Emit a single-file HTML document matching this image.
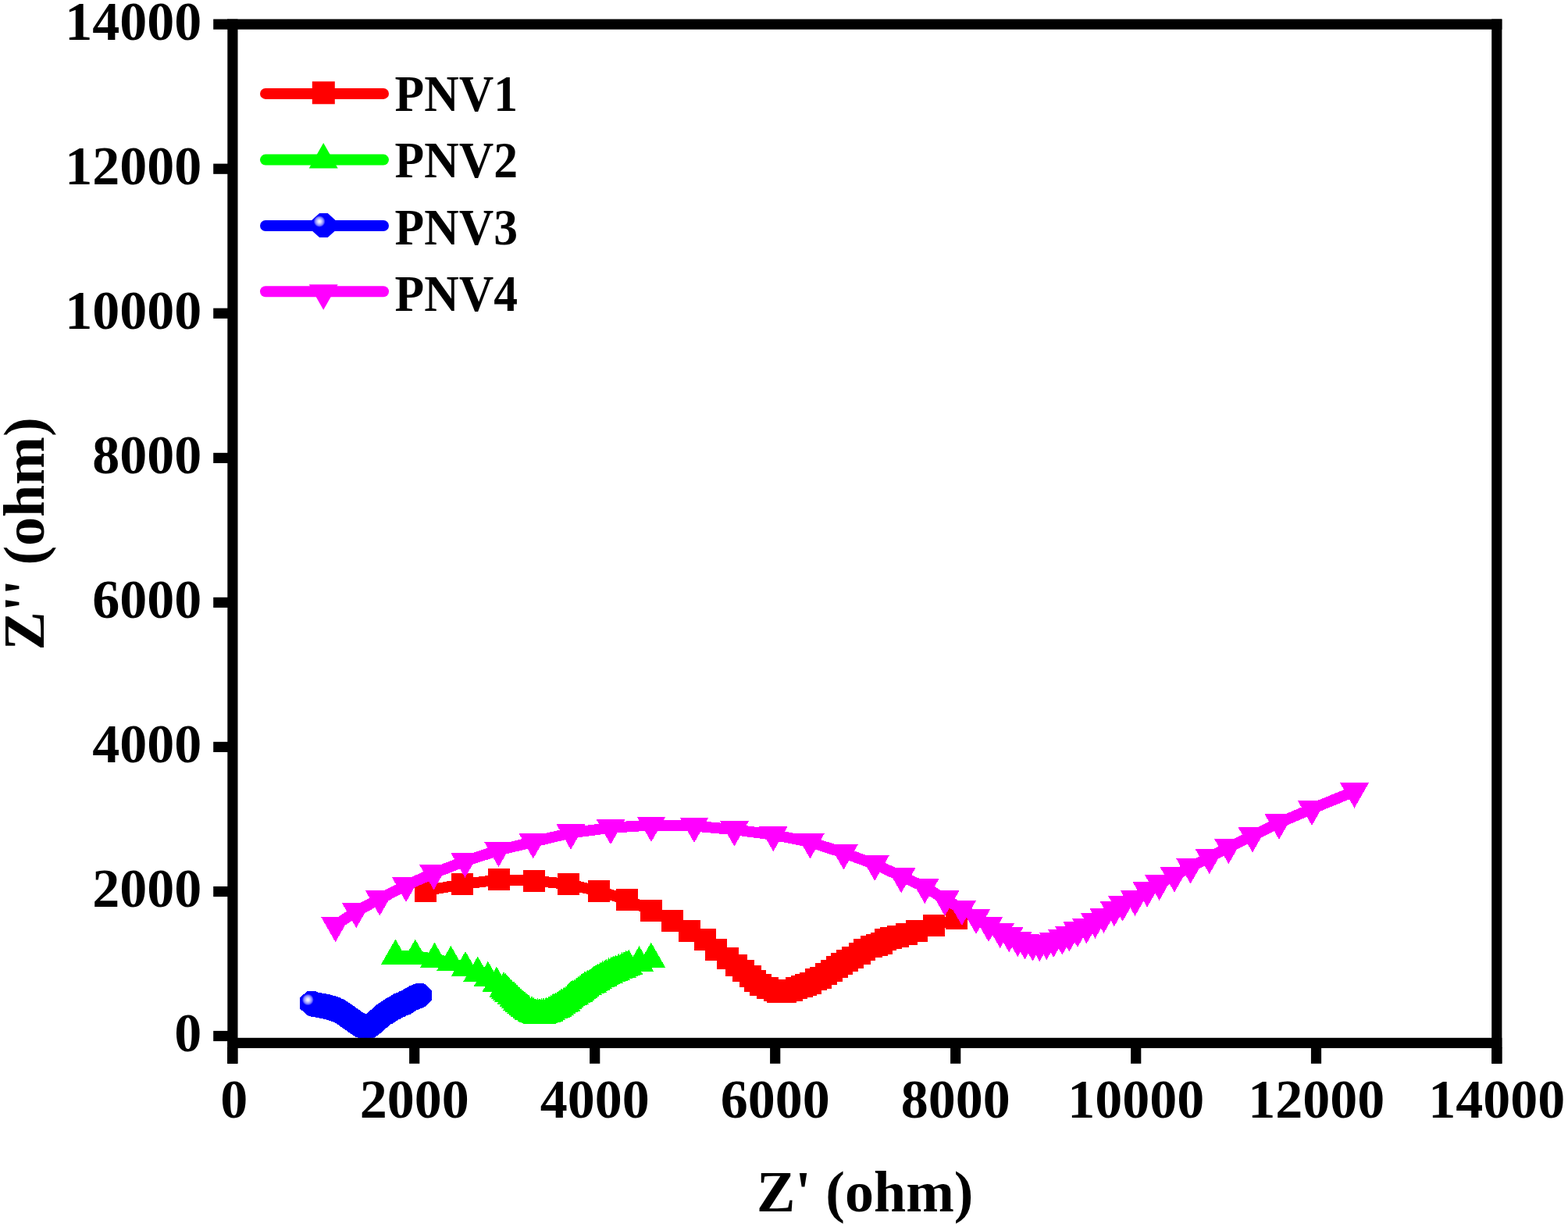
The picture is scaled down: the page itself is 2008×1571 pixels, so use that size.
<!DOCTYPE html><html><head><meta charset="utf-8"><title>Nyquist plot</title><style>html,body{margin:0;padding:0;background:#fff;}svg{display:block;}text{font-family:"Liberation Serif","Times New Roman",serif;font-weight:bold;fill:#000;}</style></head><body>
<svg width="2008" height="1571" viewBox="0 0 2008 1571">
<defs><radialGradient id="hl"><stop offset="0" stop-color="#fff"/><stop offset="0.3" stop-color="#d8d8ff"/><stop offset="0.7" stop-color="#8080ff"/><stop offset="1" stop-color="#00f"/></radialGradient><clipPath id="pc"><rect x="304.5" y="37.7" width="1605.7" height="1291.1"/></clipPath></defs>
<rect width="2008" height="1571" fill="#fff"/>
<g clip-path="url(#pc)" shape-rendering="crispEdges">
<polyline points="545.3,1140.5 591.9,1132.1 638.6,1126.4 684.3,1127.6 727.5,1132.1 767.4,1141 802.7,1152.2 834,1165.5 860.8,1178.6 883,1192 903,1203.3 917.4,1216.4 932,1227 943,1236.4 951.6,1243.2 960.7,1249.8 967.4,1256.4 974.2,1261 983,1264.5 992,1267.8 996.3,1269.6 1001,1270 1005.5,1269.6 1013.5,1267.5 1020.2,1265.2 1026.8,1262.9 1032.1,1260.8 1038.1,1258.7 1044.7,1254.1 1051.3,1252.1 1057.9,1247.3 1064.8,1242.9 1071.6,1238.3 1078.2,1234.2 1084.8,1229.8 1091.6,1225.6 1100.6,1220.9 1107.4,1216.4 1116,1212.2 1122.8,1209.8 1129.4,1207.5 1133.8,1203.2 1140.8,1200.9 1149.7,1198.7 1160.6,1196.3 1173.8,1192.2 1196.2,1185.4 1225,1176.4" fill="none" stroke="#f00" stroke-width="14" stroke-linejoin="round" stroke-linecap="round"/>
<rect x="531.3" y="1126.5" width="28" height="28" fill="#f00"/>
<rect x="577.9" y="1118.1" width="28" height="28" fill="#f00"/>
<rect x="624.6" y="1112.4" width="28" height="28" fill="#f00"/>
<rect x="670.3" y="1113.6" width="28" height="28" fill="#f00"/>
<rect x="713.5" y="1118.1" width="28" height="28" fill="#f00"/>
<rect x="753.4" y="1127" width="28" height="28" fill="#f00"/>
<rect x="788.7" y="1138.2" width="28" height="28" fill="#f00"/>
<rect x="820" y="1151.5" width="28" height="28" fill="#f00"/>
<rect x="846.8" y="1164.6" width="28" height="28" fill="#f00"/>
<rect x="869" y="1178" width="28" height="28" fill="#f00"/>
<rect x="889" y="1189.3" width="28" height="28" fill="#f00"/>
<rect x="903.4" y="1202.4" width="28" height="28" fill="#f00"/>
<rect x="918" y="1213" width="28" height="28" fill="#f00"/>
<rect x="929" y="1222.4" width="28" height="28" fill="#f00"/>
<rect x="937.6" y="1229.2" width="28" height="28" fill="#f00"/>
<rect x="946.7" y="1235.8" width="28" height="28" fill="#f00"/>
<rect x="953.4" y="1242.4" width="28" height="28" fill="#f00"/>
<rect x="960.2" y="1247" width="28" height="28" fill="#f00"/>
<rect x="969" y="1250.5" width="28" height="28" fill="#f00"/>
<rect x="978" y="1253.8" width="28" height="28" fill="#f00"/>
<rect x="982.3" y="1255.6" width="28" height="28" fill="#f00"/>
<rect x="987" y="1256" width="28" height="28" fill="#f00"/>
<rect x="991.5" y="1255.6" width="28" height="28" fill="#f00"/>
<rect x="999.5" y="1253.5" width="28" height="28" fill="#f00"/>
<rect x="1006.2" y="1251.2" width="28" height="28" fill="#f00"/>
<rect x="1012.8" y="1248.9" width="28" height="28" fill="#f00"/>
<rect x="1018.1" y="1246.8" width="28" height="28" fill="#f00"/>
<rect x="1024.1" y="1244.7" width="28" height="28" fill="#f00"/>
<rect x="1030.7" y="1240.1" width="28" height="28" fill="#f00"/>
<rect x="1037.3" y="1238.1" width="28" height="28" fill="#f00"/>
<rect x="1043.9" y="1233.3" width="28" height="28" fill="#f00"/>
<rect x="1050.8" y="1228.9" width="28" height="28" fill="#f00"/>
<rect x="1057.6" y="1224.3" width="28" height="28" fill="#f00"/>
<rect x="1064.2" y="1220.2" width="28" height="28" fill="#f00"/>
<rect x="1070.8" y="1215.8" width="28" height="28" fill="#f00"/>
<rect x="1077.6" y="1211.6" width="28" height="28" fill="#f00"/>
<rect x="1086.6" y="1206.9" width="28" height="28" fill="#f00"/>
<rect x="1093.4" y="1202.4" width="28" height="28" fill="#f00"/>
<rect x="1102" y="1198.2" width="28" height="28" fill="#f00"/>
<rect x="1108.8" y="1195.8" width="28" height="28" fill="#f00"/>
<rect x="1115.4" y="1193.5" width="28" height="28" fill="#f00"/>
<rect x="1119.8" y="1189.2" width="28" height="28" fill="#f00"/>
<rect x="1126.8" y="1186.9" width="28" height="28" fill="#f00"/>
<rect x="1135.7" y="1184.7" width="28" height="28" fill="#f00"/>
<rect x="1146.6" y="1182.3" width="28" height="28" fill="#f00"/>
<rect x="1159.8" y="1178.2" width="28" height="28" fill="#f00"/>
<rect x="1182.2" y="1171.4" width="28" height="28" fill="#f00"/>
<rect x="1211" y="1162.4" width="28" height="28" fill="#f00"/>
<polyline points="506.4,1224 531.8,1224 556.5,1228 577.4,1232.4 596,1239.4 611.7,1246 624.9,1252.3 635.9,1259.1 645,1265.7 651.7,1272 658,1278 665,1285 672,1291 677,1295 681,1297 686,1299.3 691,1300 696,1299 703,1297 708.5,1293.1 714,1290.9 719,1287 725,1283.9 727.3,1281.3 731.3,1277.3 735.8,1275 740.6,1271.5 745,1268 749,1265 756,1261.2 760.4,1258.3 765.5,1255 771.7,1251.6 776.4,1249.3 782.7,1246 788.5,1244 796.4,1240.5 805.1,1237.2 818.5,1232.6 833.8,1228.1" fill="none" stroke="#0f0" stroke-width="14" stroke-linejoin="round" stroke-linecap="round"/>
<path d="M506.4 1202.5L524.9 1235L487.9 1235Z" fill="#0f0"/>
<path d="M531.8 1202.5L550.3 1235L513.3 1235Z" fill="#0f0"/>
<path d="M556.5 1206.5L575 1239L538 1239Z" fill="#0f0"/>
<path d="M577.4 1210.9L595.9 1243.4L558.9 1243.4Z" fill="#0f0"/>
<path d="M596 1217.9L614.5 1250.4L577.5 1250.4Z" fill="#0f0"/>
<path d="M611.7 1224.5L630.2 1257L593.2 1257Z" fill="#0f0"/>
<path d="M624.9 1230.8L643.4 1263.3L606.4 1263.3Z" fill="#0f0"/>
<path d="M635.9 1237.6L654.4 1270.1L617.4 1270.1Z" fill="#0f0"/>
<path d="M645 1244.2L663.5 1276.7L626.5 1276.7Z" fill="#0f0"/>
<path d="M647.4 1246.3L665.9 1278.8L628.9 1278.8Z" fill="#0f0"/>
<path d="M649.6 1248.4L668.1 1280.9L631.1 1280.9Z" fill="#0f0"/>
<path d="M651.7 1250.5L670.2 1283L633.2 1283Z" fill="#0f0"/>
<path d="M654.8 1253.5L673.3 1286L636.3 1286Z" fill="#0f0"/>
<path d="M658 1256.5L676.5 1289L639.5 1289Z" fill="#0f0"/>
<path d="M660.3 1258.8L678.8 1291.3L641.8 1291.3Z" fill="#0f0"/>
<path d="M662.6 1261.2L681.1 1293.7L644.1 1293.7Z" fill="#0f0"/>
<path d="M665 1263.5L683.5 1296L646.5 1296Z" fill="#0f0"/>
<path d="M667.4 1265.6L685.9 1298.1L648.9 1298.1Z" fill="#0f0"/>
<path d="M669.8 1267.7L688.3 1300.2L651.3 1300.2Z" fill="#0f0"/>
<path d="M672 1269.5L690.5 1302L653.5 1302Z" fill="#0f0"/>
<path d="M674.7 1271.8L693.2 1304.2L656.2 1304.2Z" fill="#0f0"/>
<path d="M677 1273.5L695.5 1306L658.5 1306Z" fill="#0f0"/>
<path d="M681 1275.5L699.5 1308L662.5 1308Z" fill="#0f0"/>
<path d="M683.4 1276.7L701.9 1309.2L664.9 1309.2Z" fill="#0f0"/>
<path d="M686 1277.8L704.5 1310.3L667.5 1310.3Z" fill="#0f0"/>
<path d="M688.5 1278.4L707 1310.9L670 1310.9Z" fill="#0f0"/>
<path d="M691 1278.5L709.5 1311L672.5 1311Z" fill="#0f0"/>
<path d="M693.4 1278.2L711.9 1310.7L674.9 1310.7Z" fill="#0f0"/>
<path d="M696 1277.5L714.5 1310L677.5 1310Z" fill="#0f0"/>
<path d="M699.5 1276.7L718 1309.2L681 1309.2Z" fill="#0f0"/>
<path d="M703 1275.5L721.5 1308L684.5 1308Z" fill="#0f0"/>
<path d="M705.8 1273.6L724.3 1306.1L687.3 1306.1Z" fill="#0f0"/>
<path d="M708.5 1271.6L727 1304.1L690 1304.1Z" fill="#0f0"/>
<path d="M711.3 1270.5L729.8 1303L692.8 1303Z" fill="#0f0"/>
<path d="M714 1269.4L732.5 1301.9L695.5 1301.9Z" fill="#0f0"/>
<path d="M716.5 1267.5L735 1300L698 1300Z" fill="#0f0"/>
<path d="M719 1265.5L737.5 1298L700.5 1298Z" fill="#0f0"/>
<path d="M722.2 1263.9L740.7 1296.4L703.7 1296.4Z" fill="#0f0"/>
<path d="M725 1262.4L743.5 1294.9L706.5 1294.9Z" fill="#0f0"/>
<path d="M727.3 1259.8L745.8 1292.3L708.8 1292.3Z" fill="#0f0"/>
<path d="M729.2 1257.8L747.7 1290.3L710.7 1290.3Z" fill="#0f0"/>
<path d="M731.3 1255.8L749.8 1288.3L712.8 1288.3Z" fill="#0f0"/>
<path d="M733.5 1254.6L752 1287.1L715 1287.1Z" fill="#0f0"/>
<path d="M735.8 1253.5L754.3 1286L717.3 1286Z" fill="#0f0"/>
<path d="M738.2 1251.8L756.7 1284.3L719.7 1284.3Z" fill="#0f0"/>
<path d="M740.6 1250L759.1 1282.5L722.1 1282.5Z" fill="#0f0"/>
<path d="M742.9 1248.2L761.4 1280.7L724.4 1280.7Z" fill="#0f0"/>
<path d="M745 1246.5L763.5 1279L726.5 1279Z" fill="#0f0"/>
<path d="M746.8 1245L765.3 1277.5L728.3 1277.5Z" fill="#0f0"/>
<path d="M749 1243.5L767.5 1276L730.5 1276Z" fill="#0f0"/>
<path d="M752.5 1241.6L771 1274.1L734 1274.1Z" fill="#0f0"/>
<path d="M756 1239.7L774.5 1272.2L737.5 1272.2Z" fill="#0f0"/>
<path d="M758.3 1238.2L776.8 1270.7L739.8 1270.7Z" fill="#0f0"/>
<path d="M760.4 1236.8L778.9 1269.3L741.9 1269.3Z" fill="#0f0"/>
<path d="M762.8 1235.2L781.3 1267.7L744.3 1267.7Z" fill="#0f0"/>
<path d="M765.5 1233.5L784 1266L747 1266Z" fill="#0f0"/>
<path d="M768.6 1231.7L787.1 1264.2L750.1 1264.2Z" fill="#0f0"/>
<path d="M771.7 1230.1L790.2 1262.6L753.2 1262.6Z" fill="#0f0"/>
<path d="M774 1228.9L792.5 1261.4L755.5 1261.4Z" fill="#0f0"/>
<path d="M776.4 1227.8L794.9 1260.3L757.9 1260.3Z" fill="#0f0"/>
<path d="M779.5 1226.1L798 1258.6L761 1258.6Z" fill="#0f0"/>
<path d="M782.7 1224.5L801.2 1257L764.2 1257Z" fill="#0f0"/>
<path d="M785.5 1223.5L804 1256L767 1256Z" fill="#0f0"/>
<path d="M788.5 1222.5L807 1255L770 1255Z" fill="#0f0"/>
<path d="M792.3 1220.8L810.8 1253.3L773.8 1253.3Z" fill="#0f0"/>
<path d="M796.4 1219L814.9 1251.5L777.9 1251.5Z" fill="#0f0"/>
<path d="M799.1 1217.9L817.6 1250.4L780.6 1250.4Z" fill="#0f0"/>
<path d="M801.8 1216.9L820.3 1249.4L783.3 1249.4Z" fill="#0f0"/>
<path d="M805.1 1215.7L823.6 1248.2L786.6 1248.2Z" fill="#0f0"/>
<path d="M818.5 1211.1L837 1243.6L800 1243.6Z" fill="#0f0"/>
<path d="M833.8 1206.6L852.3 1239.1L815.3 1239.1Z" fill="#0f0"/>
<polyline points="398.9,1284.4 404,1286.3 412,1287.8 420,1289.5 427,1291.5 434,1294.1 442,1299.3 450,1305 457,1310 464,1314 469.7,1316 476,1312 483,1306.5 490,1300 500,1293.7 510,1287.8 520,1283.4 530,1277.4 537.6,1274.5" fill="none" stroke="#00f" stroke-width="14" stroke-linejoin="round" stroke-linecap="round"/>
<polygon points="542.9,1259 552.6,1267.7 552.6,1281.3 542.9,1290 532.3,1290 522.6,1281.3 522.6,1267.7 532.3,1259" fill="#00f"/>
<polygon points="541,1259.6 550.7,1268.3 550.7,1281.9 541,1290.6 530.4,1290.6 520.7,1281.9 520.7,1268.3 530.4,1259.6" fill="#00f"/>
<polygon points="538.3,1260.6 548,1269.3 548,1282.9 538.3,1291.6 527.7,1291.6 518,1282.9 518,1269.3 527.7,1260.6" fill="#00f"/>
<polygon points="535.3,1261.9 545,1270.6 545,1284.2 535.3,1292.9 524.7,1292.9 515,1284.2 515,1270.6 524.7,1261.9" fill="#00f"/>
<polygon points="532.1,1263.7 541.8,1272.4 541.8,1286 532.1,1294.7 521.5,1294.7 511.8,1286 511.8,1272.4 521.5,1263.7" fill="#00f"/>
<polygon points="528.7,1265.9 538.4,1274.6 538.4,1288.2 528.7,1296.9 518.1,1296.9 508.4,1288.2 508.4,1274.6 518.1,1265.9" fill="#00f"/>
<polygon points="525.3,1267.9 535,1276.6 535,1290.2 525.3,1298.9 514.7,1298.9 505,1290.2 505,1276.6 514.7,1267.9" fill="#00f"/>
<polygon points="522,1269.4 531.7,1278.1 531.7,1291.7 522,1300.4 511.4,1300.4 501.7,1291.7 501.7,1278.1 511.4,1269.4" fill="#00f"/>
<polygon points="518.6,1270.8 528.3,1279.5 528.3,1293.1 518.6,1301.8 508,1301.8 498.3,1293.1 498.3,1279.5 508,1270.8" fill="#00f"/>
<polygon points="515.3,1272.3 525,1281 525,1294.6 515.3,1303.3 504.7,1303.3 495,1294.6 495,1281 504.7,1272.3" fill="#00f"/>
<polygon points="512,1274.1 521.7,1282.8 521.7,1296.4 512,1305.1 501.4,1305.1 491.7,1296.4 491.7,1282.8 501.4,1274.1" fill="#00f"/>
<polygon points="508.6,1276.1 518.3,1284.8 518.3,1298.4 508.6,1307.1 498,1307.1 488.3,1298.4 488.3,1284.8 498,1276.1" fill="#00f"/>
<polygon points="505.3,1278.2 515,1286.9 515,1300.5 505.3,1309.2 494.7,1309.2 485,1300.5 485,1286.9 494.7,1278.2" fill="#00f"/>
<polygon points="501.9,1280.3 511.6,1289 511.6,1302.6 501.9,1311.3 491.3,1311.3 481.6,1302.6 481.6,1289 491.3,1280.3" fill="#00f"/>
<polygon points="498.4,1282.4 508.1,1291.1 508.1,1304.7 498.4,1313.4 487.8,1313.4 478.1,1304.7 478.1,1291.1 487.8,1282.4" fill="#00f"/>
<polygon points="495.3,1284.5 505,1293.2 505,1306.8 495.3,1315.5 484.7,1315.5 475,1306.8 475,1293.2 484.7,1284.5" fill="#00f"/>
<polygon points="492.7,1286.7 502.4,1295.4 502.4,1309 492.7,1317.7 482.1,1317.7 472.4,1309 472.4,1295.4 482.1,1286.7" fill="#00f"/>
<polygon points="490.5,1288.9 500.2,1297.6 500.2,1311.2 490.5,1319.9 479.9,1319.9 470.2,1311.2 470.2,1297.6 479.9,1288.9" fill="#00f"/>
<polygon points="488.3,1291 498,1299.7 498,1313.3 488.3,1322 477.7,1322 468,1313.3 468,1299.7 477.7,1291" fill="#00f"/>
<polygon points="485.9,1293 495.6,1301.7 495.6,1315.3 485.9,1324 475.3,1324 465.6,1315.3 465.6,1301.7 475.3,1293" fill="#00f"/>
<polygon points="483.6,1294.8 493.3,1303.5 493.3,1317.1 483.6,1325.8 473,1325.8 463.3,1317.1 463.3,1303.5 473,1294.8" fill="#00f"/>
<polygon points="481.3,1296.5 491,1305.2 491,1318.8 481.3,1327.5 470.7,1327.5 461,1318.8 461,1305.2 470.7,1296.5" fill="#00f"/>
<polygon points="478.1,1299 487.8,1307.7 487.8,1321.3 478.1,1330 467.5,1330 457.8,1321.3 457.8,1307.7 467.5,1299" fill="#00f"/>
<polygon points="475,1300.5 484.7,1309.2 484.7,1322.8 475,1331.5 464.4,1331.5 454.7,1322.8 454.7,1309.2 464.4,1300.5" fill="#00f"/>
<polygon points="472.2,1300 481.9,1308.7 481.9,1322.3 472.2,1331 461.6,1331 451.9,1322.3 451.9,1308.7 461.6,1300" fill="#00f"/>
<polygon points="469.3,1298.5 479,1307.2 479,1320.8 469.3,1329.5 458.7,1329.5 449,1320.8 449,1307.2 458.7,1298.5" fill="#00f"/>
<polygon points="467.1,1297.4 476.8,1306.1 476.8,1319.7 467.1,1328.4 456.5,1328.4 446.8,1319.7 446.8,1306.1 456.5,1297.4" fill="#00f"/>
<polygon points="464.7,1296 474.4,1304.7 474.4,1318.3 464.7,1327 454.1,1327 444.4,1318.3 444.4,1304.7 454.1,1296" fill="#00f"/>
<polygon points="462.3,1294.5 472,1303.2 472,1316.8 462.3,1325.5 451.7,1325.5 442,1316.8 442,1303.2 451.7,1294.5" fill="#00f"/>
<polygon points="460,1292.9 469.7,1301.6 469.7,1315.2 460,1323.9 449.4,1323.9 439.7,1315.2 439.7,1301.6 449.4,1292.9" fill="#00f"/>
<polygon points="457.7,1291.3 467.4,1300 467.4,1313.6 457.7,1322.3 447.1,1322.3 437.4,1313.6 437.4,1300 447.1,1291.3" fill="#00f"/>
<polygon points="455.3,1289.5 465,1298.2 465,1311.8 455.3,1320.5 444.7,1320.5 435,1311.8 435,1298.2 444.7,1289.5" fill="#00f"/>
<polygon points="452.7,1287.6 462.4,1296.3 462.4,1309.9 452.7,1318.6 442.1,1318.6 432.4,1309.9 432.4,1296.3 442.1,1287.6" fill="#00f"/>
<polygon points="450,1285.7 459.7,1294.4 459.7,1308 450,1316.7 439.4,1316.7 429.7,1308 429.7,1294.4 439.4,1285.7" fill="#00f"/>
<polygon points="447.3,1283.8 457,1292.5 457,1306.1 447.3,1314.8 436.7,1314.8 427,1306.1 427,1292.5 436.7,1283.8" fill="#00f"/>
<polygon points="444.6,1281.9 454.3,1290.6 454.3,1304.2 444.6,1312.9 434,1312.9 424.3,1304.2 424.3,1290.6 434,1281.9" fill="#00f"/>
<polygon points="441.9,1280.1 451.6,1288.8 451.6,1302.4 441.9,1311.1 431.3,1311.1 421.6,1302.4 421.6,1288.8 431.3,1280.1" fill="#00f"/>
<polygon points="439.3,1278.6 449,1287.3 449,1300.9 439.3,1309.6 428.7,1309.6 419,1300.9 419,1287.3 428.7,1278.6" fill="#00f"/>
<polygon points="435.7,1277.1 445.4,1285.8 445.4,1299.4 435.7,1308.1 425.1,1308.1 415.4,1299.4 415.4,1285.8 425.1,1277.1" fill="#00f"/>
<polygon points="432.3,1276 442,1284.7 442,1298.3 432.3,1307 421.7,1307 412,1298.3 412,1284.7 421.7,1276" fill="#00f"/>
<polygon points="428.9,1274.9 438.6,1283.6 438.6,1297.2 428.9,1305.9 418.3,1305.9 408.6,1297.2 408.6,1283.6 418.3,1274.9" fill="#00f"/>
<polygon points="425.3,1274 435,1282.7 435,1296.3 425.3,1305 414.7,1305 405,1296.3 405,1282.7 414.7,1274" fill="#00f"/>
<polygon points="422.7,1273.4 432.4,1282.1 432.4,1295.7 422.7,1304.4 412.1,1304.4 402.4,1295.7 402.4,1282.1 412.1,1273.4" fill="#00f"/>
<polygon points="420,1272.8 429.7,1281.5 429.7,1295.1 420,1303.8 409.4,1303.8 399.7,1295.1 399.7,1281.5 409.4,1272.8" fill="#00f"/>
<polygon points="417.3,1272.3 427,1281 427,1294.6 417.3,1303.3 406.7,1303.3 397,1294.6 397,1281 406.7,1272.3" fill="#00f"/>
<polygon points="414.5,1271.8 424.2,1280.5 424.2,1294.1 414.5,1302.8 403.9,1302.8 394.2,1294.1 394.2,1280.5 403.9,1271.8" fill="#00f"/>
<polygon points="411.8,1271.3 421.5,1280 421.5,1293.6 411.8,1302.3 401.2,1302.3 391.5,1293.6 391.5,1280 401.2,1271.3" fill="#00f"/>
<polygon points="409.3,1270.8 419,1279.5 419,1293.1 409.3,1301.8 398.7,1301.8 389,1293.1 389,1279.5 398.7,1270.8" fill="#00f"/>
<polygon points="406.2,1269.8 415.9,1278.5 415.9,1292.1 406.2,1300.8 395.6,1300.8 385.9,1292.1 385.9,1278.5 395.6,1269.8" fill="#00f"/>
<polygon points="404.2,1268.9 413.9,1277.6 413.9,1291.2 404.2,1299.9 393.6,1299.9 383.9,1291.2 383.9,1277.6 393.6,1268.9" fill="#00f"/>
<circle cx="394.3" cy="1280" r="7.5" fill="url(#hl)"/>
<polyline points="429.6,1184.8 456.2,1166.7 486.3,1151 520,1133.5 555.5,1118 595.5,1102.5 638.5,1088.7 682.8,1077.8 731,1066.4 782,1059.8 834,1056.5 889,1057.6 940.4,1062.2 990.3,1068.8 1037.4,1078 1080.4,1092 1120.2,1106.4 1154.1,1122 1184.3,1135.6 1210,1151.4 1231.8,1163.5 1250,1174.6 1266,1184.6 1280.7,1192.6 1292.2,1197.9 1303.2,1203.6 1312.4,1207 1322.4,1209 1331.3,1209.5 1340.3,1207.5 1349.2,1204.5 1360.3,1201 1369.3,1197 1380,1191.4 1391.4,1186.8 1402.5,1180.2 1413.5,1173.5 1426.9,1164.7 1437.7,1158.2 1453.5,1151.4 1469.1,1140.2 1484.6,1131.4 1504,1121 1524.6,1110 1548.8,1097.6 1573.4,1084.7 1604,1070 1638,1053.4 1680,1035.5 1734.5,1013.2" fill="none" stroke="#f0f" stroke-width="14" stroke-linejoin="round" stroke-linecap="round"/>
<path d="M411.1 1173.8L448.1 1173.8L429.6 1206.3Z" fill="#f0f"/>
<path d="M437.7 1155.7L474.7 1155.7L456.2 1188.2Z" fill="#f0f"/>
<path d="M467.8 1140L504.8 1140L486.3 1172.5Z" fill="#f0f"/>
<path d="M501.5 1122.5L538.5 1122.5L520 1155Z" fill="#f0f"/>
<path d="M537 1107L574 1107L555.5 1139.5Z" fill="#f0f"/>
<path d="M577 1091.5L614 1091.5L595.5 1124Z" fill="#f0f"/>
<path d="M620 1077.7L657 1077.7L638.5 1110.2Z" fill="#f0f"/>
<path d="M664.3 1066.8L701.3 1066.8L682.8 1099.3Z" fill="#f0f"/>
<path d="M712.5 1055.4L749.5 1055.4L731 1087.9Z" fill="#f0f"/>
<path d="M763.5 1048.8L800.5 1048.8L782 1081.3Z" fill="#f0f"/>
<path d="M815.5 1045.5L852.5 1045.5L834 1078Z" fill="#f0f"/>
<path d="M870.5 1046.6L907.5 1046.6L889 1079.1Z" fill="#f0f"/>
<path d="M921.9 1051.2L958.9 1051.2L940.4 1083.7Z" fill="#f0f"/>
<path d="M971.8 1057.8L1008.8 1057.8L990.3 1090.3Z" fill="#f0f"/>
<path d="M1018.9 1067L1055.9 1067L1037.4 1099.5Z" fill="#f0f"/>
<path d="M1061.9 1081L1098.9 1081L1080.4 1113.5Z" fill="#f0f"/>
<path d="M1101.7 1095.4L1138.7 1095.4L1120.2 1127.9Z" fill="#f0f"/>
<path d="M1135.6 1111L1172.6 1111L1154.1 1143.5Z" fill="#f0f"/>
<path d="M1165.8 1124.6L1202.8 1124.6L1184.3 1157.1Z" fill="#f0f"/>
<path d="M1191.5 1140.4L1228.5 1140.4L1210 1172.9Z" fill="#f0f"/>
<path d="M1213.3 1152.5L1250.3 1152.5L1231.8 1185Z" fill="#f0f"/>
<path d="M1231.5 1163.6L1268.5 1163.6L1250 1196.1Z" fill="#f0f"/>
<path d="M1247.5 1173.6L1284.5 1173.6L1266 1206.1Z" fill="#f0f"/>
<path d="M1262.2 1181.6L1299.2 1181.6L1280.7 1214.1Z" fill="#f0f"/>
<path d="M1273.7 1186.9L1310.7 1186.9L1292.2 1219.4Z" fill="#f0f"/>
<path d="M1284.7 1192.6L1321.7 1192.6L1303.2 1225.1Z" fill="#f0f"/>
<path d="M1293.9 1196L1330.9 1196L1312.4 1228.5Z" fill="#f0f"/>
<path d="M1303.9 1198L1340.9 1198L1322.4 1230.5Z" fill="#f0f"/>
<path d="M1312.8 1198.5L1349.8 1198.5L1331.3 1231Z" fill="#f0f"/>
<path d="M1321.8 1196.5L1358.8 1196.5L1340.3 1229Z" fill="#f0f"/>
<path d="M1330.7 1193.5L1367.7 1193.5L1349.2 1226Z" fill="#f0f"/>
<path d="M1341.8 1190L1378.8 1190L1360.3 1222.5Z" fill="#f0f"/>
<path d="M1350.8 1186L1387.8 1186L1369.3 1218.5Z" fill="#f0f"/>
<path d="M1361.5 1180.4L1398.5 1180.4L1380 1212.9Z" fill="#f0f"/>
<path d="M1372.9 1175.8L1409.9 1175.8L1391.4 1208.3Z" fill="#f0f"/>
<path d="M1384 1169.2L1421 1169.2L1402.5 1201.7Z" fill="#f0f"/>
<path d="M1395 1162.5L1432 1162.5L1413.5 1195Z" fill="#f0f"/>
<path d="M1408.4 1153.7L1445.4 1153.7L1426.9 1186.2Z" fill="#f0f"/>
<path d="M1419.2 1147.2L1456.2 1147.2L1437.7 1179.7Z" fill="#f0f"/>
<path d="M1435 1140.4L1472 1140.4L1453.5 1172.9Z" fill="#f0f"/>
<path d="M1450.6 1129.2L1487.6 1129.2L1469.1 1161.7Z" fill="#f0f"/>
<path d="M1466.1 1120.4L1503.1 1120.4L1484.6 1152.9Z" fill="#f0f"/>
<path d="M1485.5 1110L1522.5 1110L1504 1142.5Z" fill="#f0f"/>
<path d="M1506.1 1099L1543.1 1099L1524.6 1131.5Z" fill="#f0f"/>
<path d="M1530.3 1086.6L1567.3 1086.6L1548.8 1119.1Z" fill="#f0f"/>
<path d="M1554.9 1073.7L1591.9 1073.7L1573.4 1106.2Z" fill="#f0f"/>
<path d="M1585.5 1059L1622.5 1059L1604 1091.5Z" fill="#f0f"/>
<path d="M1619.5 1042.4L1656.5 1042.4L1638 1074.9Z" fill="#f0f"/>
<path d="M1661.5 1024.5L1698.5 1024.5L1680 1057Z" fill="#f0f"/>
<path d="M1716 1002.2L1753 1002.2L1734.5 1034.7Z" fill="#f0f"/>
</g>
<g fill="#000">
<rect x="291.3" y="24.5" width="1632.1" height="13.2"/>
<rect x="291.3" y="1328.8" width="1632.1" height="13.2"/>
<rect x="291.3" y="24.5" width="13.2" height="1337.3"/>
<rect x="1910.2" y="24.5" width="13.2" height="1337.3"/>
<rect x="273.2" y="24.5" width="19.1" height="13.2"/>
<rect x="273.2" y="209.6" width="19.1" height="13.2"/>
<rect x="273.2" y="394.6" width="19.1" height="13.2"/>
<rect x="273.2" y="579.8" width="19.1" height="13.2"/>
<rect x="273.2" y="764.8" width="19.1" height="13.2"/>
<rect x="273.2" y="949.8" width="19.1" height="13.2"/>
<rect x="273.2" y="1134.9" width="19.1" height="13.2"/>
<rect x="273.2" y="1319.9" width="19.1" height="13.2"/>
<rect x="291.1" y="1341" width="13.2" height="20.8"/>
<rect x="524.1" y="1341" width="13.2" height="20.8"/>
<rect x="755.1" y="1341" width="13.2" height="20.8"/>
<rect x="986.1" y="1341" width="13.2" height="20.8"/>
<rect x="1217.1" y="1341" width="13.2" height="20.8"/>
<rect x="1448.1" y="1341" width="13.2" height="20.8"/>
<rect x="1678.9" y="1341" width="13.2" height="20.8"/>
<rect x="1910.3" y="1341" width="13.2" height="20.8"/>
</g>
<text x="258.2" y="50.8" font-size="70" text-anchor="end">14000</text>
<text x="258.2" y="235.9" font-size="70" text-anchor="end">12000</text>
<text x="258.2" y="420.9" font-size="70" text-anchor="end">10000</text>
<text x="258.2" y="606.1" font-size="70" text-anchor="end">8000</text>
<text x="258.2" y="791.1" font-size="70" text-anchor="end">6000</text>
<text x="258.2" y="976.1" font-size="70" text-anchor="end">4000</text>
<text x="258.2" y="1161.2" font-size="70" text-anchor="end">2000</text>
<text x="258.2" y="1346.2" font-size="70" text-anchor="end">0</text>
<text x="299.7" y="1430.6" font-size="70" text-anchor="middle">0</text>
<text x="530.7" y="1430.6" font-size="70" text-anchor="middle">2000</text>
<text x="761.7" y="1430.6" font-size="70" text-anchor="middle">4000</text>
<text x="992.7" y="1430.6" font-size="70" text-anchor="middle">6000</text>
<text x="1223.7" y="1430.6" font-size="70" text-anchor="middle">8000</text>
<text x="1454.7" y="1430.6" font-size="70" text-anchor="middle">10000</text>
<text x="1685.7" y="1430.6" font-size="70" text-anchor="middle">12000</text>
<text x="1916.7" y="1430.6" font-size="70" text-anchor="middle">14000</text>
<text x="1107.7" y="1551" font-size="74" text-anchor="middle">Z&#39; (ohm)</text>
<text transform="translate(56.4 683.5) rotate(-90)" font-size="74" text-anchor="middle">Z&#39;&#39; (ohm)</text>
<line x1="340" y1="119.9" x2="491" y2="119.9" stroke="#f00" stroke-width="14" stroke-linecap="round"/>
<rect x="399.8" y="104.3" width="29" height="29" fill="#f00"/>
<text transform="translate(505.6 142.1) scale(0.948 1)" font-size="65">PNV1</text>
<line x1="340" y1="204.6" x2="491" y2="204.6" stroke="#0f0" stroke-width="14" stroke-linecap="round"/>
<path d="M414.2 183.1L432.7 215.6L395.7 215.6Z" fill="#0f0"/>
<text transform="translate(505.6 226.6) scale(0.948 1)" font-size="65">PNV2</text>
<line x1="340" y1="289" x2="491" y2="289" stroke="#00f" stroke-width="14" stroke-linecap="round"/>
<polygon points="419.7,273 429.4,281.7 429.4,295.3 419.7,304 409.1,304 399.4,295.3 399.4,281.7 409.1,273" fill="#00f"/><circle cx="409.1" cy="283.5" r="7.5" fill="url(#hl)"/>
<text transform="translate(505.6 313.3) scale(0.948 1)" font-size="65">PNV3</text>
<line x1="340" y1="373.2" x2="491" y2="373.2" stroke="#f0f" stroke-width="14" stroke-linecap="round"/>
<path d="M395.7 364.2L432.7 364.2L414.2 396.7Z" fill="#f0f"/>
<text transform="translate(505.6 397.8) scale(0.948 1)" font-size="65">PNV4</text>
</svg></body></html>
